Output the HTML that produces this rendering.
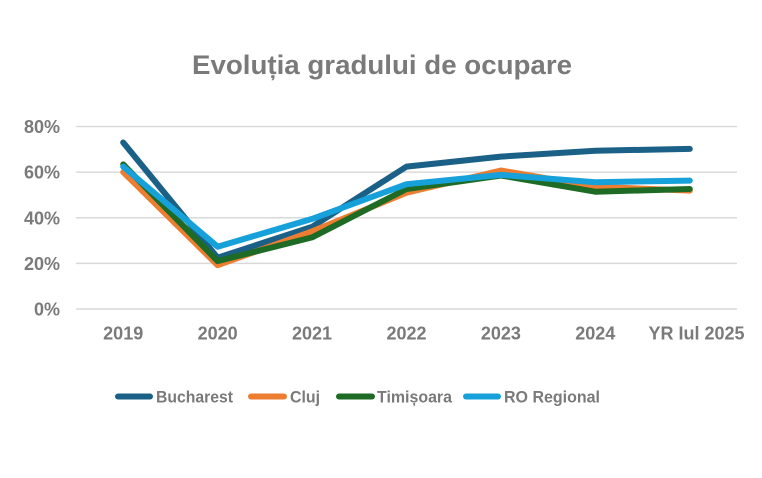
<!DOCTYPE html>
<html><head><meta charset="utf-8"><style>
html,body{margin:0;padding:0;background:#fff;}
svg{display:block;}
text{font-family:"Liberation Sans",Arial,sans-serif;font-weight:bold;fill:#7a7a7a;}
</style></head><body>
<svg width="762" height="478" viewBox="0 0 762 478" xmlns="http://www.w3.org/2000/svg">
<rect width="762" height="478" fill="#fff"/>
<text x="382" y="74" font-size="27" text-anchor="middle" textLength="380" lengthAdjust="spacingAndGlyphs">Evoluția gradului de ocupare</text>
<g stroke="#d9d9d9" stroke-width="1.5">
<line x1="76" y1="126.5" x2="737" y2="126.5"/>
<line x1="76" y1="172.1" x2="737" y2="172.1"/>
<line x1="76" y1="217.8" x2="737" y2="217.8"/>
<line x1="76" y1="263.4" x2="737" y2="263.4"/>
<line x1="76" y1="309" x2="737" y2="309"/>
</g>
<g font-size="18" text-anchor="end">
<text x="60" y="133">80%</text>
<text x="60" y="178.6">60%</text>
<text x="60" y="224.3">40%</text>
<text x="60" y="269.9">20%</text>
<text x="60" y="315.5">0%</text>
</g>
<g font-size="18" text-anchor="middle">
<text x="123.2" y="339.5">2019</text>
<text x="217.6" y="339.5">2020</text>
<text x="312" y="339.5">2021</text>
<text x="406.5" y="339.5">2022</text>
<text x="500.9" y="339.5">2023</text>
<text x="595.3" y="339.5">2024</text>
<text x="696.5" y="339.5">YR Iul 2025</text>
</g>
<g fill="none" stroke-width="6" stroke-linecap="round" stroke-linejoin="round">
<polyline stroke="#1b6087" points="123.2,142.5 217.6,257.7 312,226.9 406.5,166.6 500.9,156.6 595.3,150.7 689.8,148.9"/>
<polyline stroke="#ed7d31" points="123.2,172.1 217.6,265.2 312,231.4 406.5,192.7 500.9,170.5 595.3,186.7 689.8,190.6"/>
<polyline stroke="#1e6b25" points="123.2,164.4 217.6,261.1 312,237.4 406.5,189 500.9,175.5 595.3,191.7 689.8,189"/>
<polyline stroke="#17a1da" points="123.2,166.6 217.6,246.7 312,218.9 406.5,184.2 500.9,174.9 595.3,182.2 689.8,180.6"/>
</g>
<g stroke-width="6" stroke-linecap="round">
<line x1="118" y1="396.5" x2="150" y2="396.5" stroke="#1b6087"/>
<line x1="251" y1="396.5" x2="284" y2="396.5" stroke="#ed7d31"/>
<line x1="339" y1="396.5" x2="372" y2="396.5" stroke="#1e6b25"/>
<line x1="466" y1="396.5" x2="498" y2="396.5" stroke="#17a1da"/>
</g>
<g font-size="17">
<text x="156" y="402.5" textLength="77" lengthAdjust="spacingAndGlyphs">Bucharest</text>
<text x="290" y="402.5" textLength="30" lengthAdjust="spacingAndGlyphs">Cluj</text>
<text x="377" y="402.5" textLength="75" lengthAdjust="spacingAndGlyphs">Timișoara</text>
<text x="504" y="402.5" textLength="96" lengthAdjust="spacingAndGlyphs">RO Regional</text>
</g>
</svg>
</body></html>
